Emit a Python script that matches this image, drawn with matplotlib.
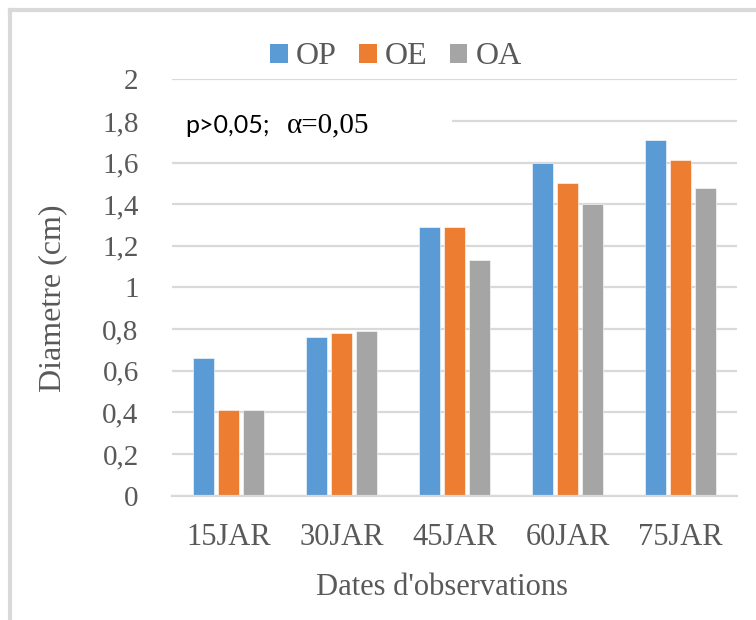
import numpy as np
import matplotlib
matplotlib.use('Agg')
import matplotlib.pyplot as plt
from matplotlib.patches import Rectangle, Patch
from matplotlib.lines import Line2D

dates = ['15JAR', '30JAR', '45JAR', '60JAR', '75JAR']
op = [0.66, 0.76, 1.29, 1.60, 1.71]
oe = [0.41, 0.78, 1.29, 1.50, 1.61]
oa = [0.41, 0.79, 1.13, 1.40, 1.48]
series_names = ['OP', 'OE', 'OA']
colors = ['#5B9BD5', '#ED7D31', '#A5A5A5']
yticks = [0, 0.2, 0.4, 0.6, 0.8, 1.0, 1.2, 1.4, 1.6, 1.8, 2.0]
ytick_labels = ['0', '0,2', '0,4', '0,6', '0,8', '1', '1,2', '1,4', '1,6', '1,8', '2']

serif = 'Liberation Serif'
grey_txt = '#595959'
grid_col = '#d9d9d9'

fig = plt.figure(figsize=(7.56, 6.2), dpi=100)
ax = fig.add_axes([172 / 756, 1 - 495.5 / 620, 565 / 756, 416.2 / 620])

x = np.arange(len(dates))
w = 0.18
step = 0.22
for i, (vals, c) in enumerate(zip([op, oe, oa], colors)):
    ax.bar(x + (i - 1) * step, vals, width=w, color=c, edgecolor='white',
           linewidth=0.4, zorder=2)

ax.set_xlim(-0.5, len(dates) - 0.5)
ax.set_ylim(0, 2)
ax.set_yticks(yticks)
ax.set_yticklabels(ytick_labels, fontfamily=serif, fontsize=21, color=grey_txt)
ax.set_xticks(x)
ax.set_xticklabels(dates, fontfamily=serif, fontsize=22, color=grey_txt)
ax.tick_params(axis='y', length=0, pad=24)
ax.tick_params(axis='x', length=0, pad=20)

ax.set_axisbelow(True)
ax.yaxis.grid(True, color=grid_col, linewidth=1.6)
for s in ['left', 'top', 'right']:
    ax.spines[s].set_visible(False)
ax.spines['bottom'].set_color(grid_col)
ax.spines['bottom'].set_linewidth(1.6)

ax.set_ylabel("Diametre (cm)", fontfamily=serif, fontsize=23, color=grey_txt)
ax.yaxis.set_label_coords(-0.212, 0.475)
ax.yaxis.label.set_va('center')
ax.set_xlabel("Dates d'observations", fontfamily=serif, fontsize=22, color=grey_txt)
ax.xaxis.set_label_coords(0.478, -0.222)
ax.xaxis.label.set_va('center')

# white box behind the stats note, hides the 1,8 gridline
ax.add_patch(Rectangle((0, 0.855), 0.496, 0.086, transform=ax.transAxes,
                       facecolor='white', edgecolor='none', zorder=1))
ax.text(0.024, 0.889, 'p>0,05;', transform=ax.transAxes, fontfamily='Lato',
        fontsize=18, color='black', va='center', ha='left', zorder=3)
ax.text(0.204, 0.889, '\u03b1=0,05', transform=ax.transAxes, fontfamily=serif,
        fontsize=21, color='black', va='center', ha='left', zorder=3)

handles = [Patch(facecolor=c, edgecolor='none') for c in colors]
fig.legend(handles, series_names, loc='center', bbox_to_anchor=(396 / 756, 1 - 57 / 620),
           ncol=3, frameon=False, handlelength=0.55, handleheight=0.55,
           handletextpad=0.25, columnspacing=0.7,
           prop={'family': serif, 'size': 23}, labelcolor=grey_txt)

# chart area border (only left and top are in the picture)
fig.add_artist(Line2D([9.5 / 756, 9.5 / 756], [0, 1 - 9.5 / 620], color=grid_col,
                      linewidth=3, transform=fig.transFigure))
fig.add_artist(Line2D([9.5 / 756, 1], [1 - 9.5 / 620, 1 - 9.5 / 620], color=grid_col,
                      linewidth=3, transform=fig.transFigure))

fig.savefig('out.png', dpi=100)
